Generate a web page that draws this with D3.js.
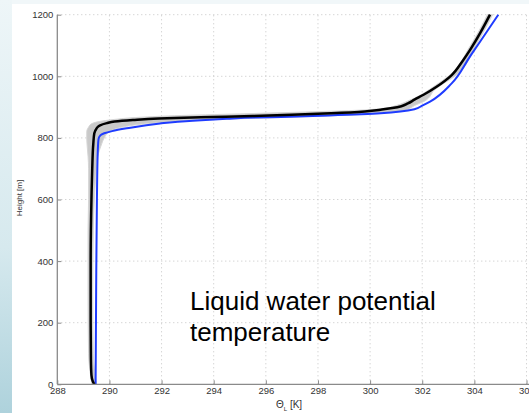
<!DOCTYPE html>
<html>
<head>
<meta charset="utf-8">
<script src="https://cdn.jsdelivr.net/npm/d3@7"></script>
<style>
  html, body { margin: 0; padding: 0; background: #fff; }
  svg { display: block; }
</style>
</head>
<body>
<svg id="chart" width="529" height="413"></svg>
<script>
// black: ensemble mean profile (height m, theta_L K)
var black_height = [0, 10, 30, 80, 200, 400, 600, 700, 780, 815, 830, 840, 848, 853, 858, 863, 867, 871, 875, 880, 886, 892, 897, 903, 912, 924, 940, 966, 1004, 1050, 1085, 1140, 1200];
var black_theta  = [289.42, 289.36, 289.31, 289.29, 289.28, 289.28, 289.31, 289.34, 289.38, 289.42, 289.5, 289.62, 289.9, 290.2, 290.9, 291.9, 293.5, 295.5, 297.0, 298.5, 299.8, 300.45, 300.85, 301.2, 301.45, 301.7, 302.05, 302.55, 303.13, 303.55, 303.83, 304.22, 304.6];

// blue: reference profile
var blue_height = [0, 300, 600, 750, 795, 808, 815, 822, 831, 847, 856, 862, 866, 868, 873, 880, 893, 905, 918, 977, 1064, 1130, 1200];
var blue_theta  = [289.47, 289.49, 289.52, 289.55, 289.58, 289.65, 289.8, 290.1, 290.66, 291.94, 293.2, 294.5, 295.6, 296.6, 298.4, 300.4, 301.7, 302.0, 302.3, 303.13, 303.83, 304.36, 304.92];

// grey spread around the mean
var band_height = [0, 100, 300, 500, 600, 700, 740, 780, 800, 820, 835, 845, 853, 860, 866, 872, 878, 884, 890, 897, 905, 920, 935, 950, 970, 1000, 1100, 1200];
var band_min    = [289.33, 289.2, 289.18, 289.18, 289.2, 289.2, 289.18, 289.14, 289.13, 289.13, 289.2, 289.3, 289.6, 290.2, 291.0, 292.5, 295.0, 297.5, 299.6, 300.6, 301.0, 301.45, 301.85, 302.15, 302.5, 303.0, 303.85, 304.5];
var band_max    = [289.5, 289.38, 289.36, 289.38, 289.42, 289.5, 289.55, 289.7, 289.8, 290.0, 290.5, 291.3, 292.6, 294.2, 296.5, 298.6, 300.0, 300.9, 301.4, 301.55, 301.7, 302.1, 302.3, 302.4, 302.7, 303.25, 304.05, 304.7];

var x_ticks = [288, 290, 292, 294, 296, 298, 300, 302, 304, 306];
var y_ticks = [0, 200, 400, 600, 800, 1000, 1200];

var svg = d3.select("#chart");

// slide background
var defs = svg.append("defs");
var grad = defs.append("linearGradient")
    .attr("id", "side").attr("x1", 0).attr("y1", 0).attr("x2", 0).attr("y2", 1);
grad.append("stop").attr("offset", "0%").attr("stop-color", "#eef6f8");
grad.append("stop").attr("offset", "60%").attr("stop-color", "#d6e9ee");
grad.append("stop").attr("offset", "100%").attr("stop-color", "#aed2dc");

svg.append("rect").attr("x", 0).attr("y", 0).attr("width", 529).attr("height", 413).attr("fill", "#f1f7f9");
svg.append("rect").attr("x", 0).attr("y", 0).attr("width", 12).attr("height", 413).attr("fill", "url(#side)");
svg.append("rect").attr("x", 12).attr("y", 4).attr("width", 517).attr("height", 409).attr("fill", "#ffffff");

var x = d3.scaleLinear().domain([288, 306]).range([57.3, 526.5]);
var y = d3.scaleLinear().domain([0, 1200]).range([384.3, 14.7]);

// grid
var grid = svg.append("g").attr("class", "grid");
grid.selectAll(".gx")
    .data(x_ticks.slice(1))
  .enter().append("line")
    .attr("x1", function(d) { return x(d); })
    .attr("x2", function(d) { return x(d); })
    .attr("y1", y(0))
    .attr("y2", y(1200))
    .style("stroke", "#c4c4c4")
    .style("stroke-width", 1)
    .style("stroke-dasharray", "1,3");
grid.selectAll(".gy")
    .data(y_ticks.slice(1))
  .enter().append("line")
    .attr("x1", x(288))
    .attr("x2", 529)
    .attr("y1", function(d) { return y(d); })
    .attr("y2", function(d) { return y(d); })
    .style("stroke", "#c4c4c4")
    .style("stroke-width", 1)
    .style("stroke-dasharray", "1,3");

// spread band
var band = band_height.map(function(h, i) { return {h: h, lo: band_min[i], hi: band_max[i]}; });
var area = d3.area()
    .curve(d3.curveMonotoneY)
    .y(function(d) { return y(d.h); })
    .x0(function(d) { return x(d.lo); })
    .x1(function(d) { return x(d.hi); });
svg.append("path")
    .datum(band)
    .attr("d", area)
    .style("fill", "#c9c9c9")
    .style("stroke", "#d6d6d6")
    .style("stroke-width", 1);

var line = d3.line()
    .curve(d3.curveMonotoneY)
    .x(function(d) { return x(d.t); })
    .y(function(d) { return y(d.h); });

var blue = blue_height.map(function(h, i) { return {h: h, t: blue_theta[i]}; });
var black = black_height.map(function(h, i) { return {h: h, t: black_theta[i]}; });

svg.append("path")
    .datum(blue)
    .attr("d", line)
    .style("fill", "none")
    .style("stroke", "#1f3cff")
    .style("stroke-width", 2);

svg.append("path")
    .datum(black)
    .attr("d", line)
    .style("fill", "none")
    .style("stroke", "#000")
    .style("stroke-width", 2.5)
    .style("stroke-linejoin", "round");

// axes
var xAxis = d3.axisBottom(x).tickValues(x_ticks).tickSize(-4).tickPadding(3).tickFormat(d3.format("d"));
var yAxis = d3.axisLeft(y).tickValues(y_ticks).tickSize(-4).tickPadding(4).tickFormat(d3.format("d"));

var gx = svg.append("g").attr("transform", "translate(0," + y(0) + ")").call(xAxis);
var gy = svg.append("g").attr("transform", "translate(" + x(288) + ",0)").call(yAxis);
gx.select(".domain").attr("d", "M" + x(288) + ",0H529");
gy.select(".domain").attr("d", "M0," + y(0) + "V" + y(1200));

[gx, gy].forEach(function(g) {
  g.select(".domain").style("stroke", "#8a8a8a").style("stroke-width", 1.3);
  g.selectAll(".tick line").style("stroke", "#8a8a8a");
  g.selectAll("text")
    .style("font-family", "Liberation Sans, Arial, sans-serif")
    .style("font-size", "9.5px")
    .style("fill", "#333");
});

// axis labels
svg.append("text")
    .attr("transform", "translate(22,198) rotate(-90)")
    .style("text-anchor", "middle")
    .style("font-family", "Liberation Sans, Arial, sans-serif")
    .style("font-size", "8px")
    .style("fill", "#333")
    .text("Height [m]");

var xl = svg.append("text")
    .attr("x", 276)
    .attr("y", 407.5)
    .style("font-family", "Liberation Sans, Arial, sans-serif")
    .style("font-size", "10px")
    .style("fill", "#333");
xl.append("tspan").text("\u0398");
xl.append("tspan").attr("dy", 3).style("font-size", "6px").text("L");
xl.append("tspan").attr("dy", -3).text(" [K]");

// annotation
var note = svg.append("text")
    .style("font-family", "Liberation Sans, Arial, sans-serif")
    .style("font-size", "26px")
    .style("fill", "#000");
note.append("tspan").attr("x", 190).attr("y", 310).text("Liquid water potential");
note.append("tspan").attr("x", 190).attr("y", 341).text("temperature");
</script>
</body>
</html>
